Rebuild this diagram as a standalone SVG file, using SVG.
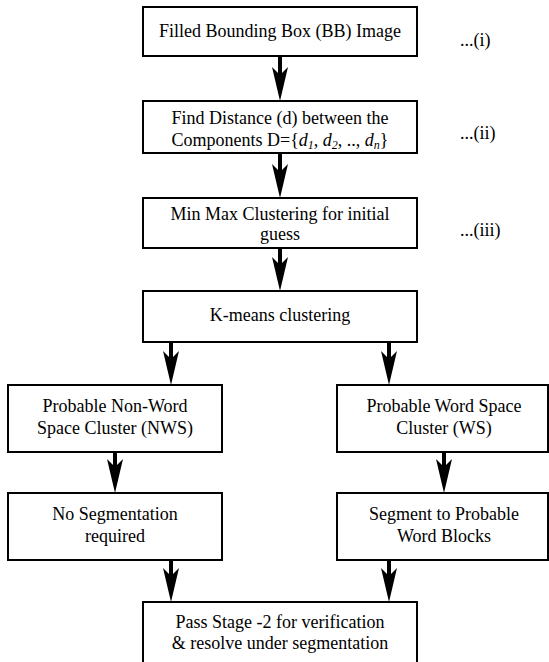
<svg xmlns="http://www.w3.org/2000/svg" width="549" height="662" viewBox="0 0 549 662">
<style>
.box{fill:#fff;stroke:#000;stroke-width:2}
.t{font-family:"Liberation Serif","Times New Roman",serif;font-size:18px;fill:#000;text-anchor:middle}
.lbl{font-family:"Liberation Serif","Times New Roman",serif;font-size:18px;fill:#000}
.sh{stroke:#000;stroke-width:4;fill:none;marker-end:url(#ah)}
.i{font-style:italic}
.s{font-size:12px}
</style>
<defs>
<marker id="ah" markerUnits="userSpaceOnUse" markerWidth="34" markerHeight="16" viewBox="0 -8 34 16" refX="14" refY="0" orient="auto">
<path d="M0,-8 L8,0 L0,8 L34,0 Z" fill="#000"/>
</marker>
</defs>
<rect width="549" height="662" fill="#fff"/>
<g id="connectors">
<line class="sh" x1="280" y1="56" x2="280" y2="81"/>
<line class="sh" x1="280" y1="153" x2="280" y2="178"/>
<line class="sh" x1="280" y1="248" x2="280" y2="271"/>
<line class="sh" x1="171" y1="342" x2="171" y2="365"/>
<line class="sh" x1="389" y1="342" x2="389" y2="365"/>
<line class="sh" x1="115" y1="452" x2="115" y2="473"/>
<line class="sh" x1="444" y1="452" x2="444" y2="473"/>
<line class="sh" x1="171" y1="560" x2="171" y2="582"/>
<line class="sh" x1="389" y1="560" x2="389" y2="582"/>
</g>
<g id="n1">
<rect class="box" x="143" y="7" width="274" height="49"/>
<text class="t" x="280" y="37">Filled Bounding Box (BB) Image</text>
</g>
<g id="n2">
<rect class="box" x="143" y="101" width="274" height="52"/>
<text class="t" x="280" y="124">Find Distance (d) between the</text>
<text class="t" x="280" y="146">Components D={<tspan class="i">d<tspan class="s" dy="3">1</tspan></tspan><tspan dy="-3">, </tspan><tspan class="i">d<tspan class="s" dy="3">2</tspan></tspan><tspan dy="-3">, .., </tspan><tspan class="i">d<tspan class="s" dy="3">n</tspan></tspan><tspan dy="-3">}</tspan></text>
</g>
<g id="n3">
<rect class="box" x="143" y="198" width="274" height="50"/>
<text class="t" x="280" y="220">Min Max Clustering for initial</text>
<text class="t" x="280" y="240">guess</text>
</g>
<g id="n4">
<rect class="box" x="143" y="291" width="274" height="51"/>
<text class="t" x="280" y="321">K-means clustering</text>
</g>
<g id="n5">
<rect class="box" x="8" y="385" width="214" height="67"/>
<text class="t" x="115" y="412">Probable Non-Word</text>
<text class="t" x="115" y="434">Space Cluster (NWS)</text>
</g>
<g id="n6">
<rect class="box" x="337" y="385" width="211" height="67"/>
<text class="t" x="444" y="412">Probable Word Space</text>
<text class="t" x="444" y="434">Cluster (WS)</text>
</g>
<g id="n7">
<rect class="box" x="8" y="493" width="214" height="67"/>
<text class="t" x="115" y="520">No Segmentation</text>
<text class="t" x="115" y="542">required</text>
</g>
<g id="n8">
<rect class="box" x="337" y="493" width="211" height="67"/>
<text class="t" x="444" y="520">Segment to Probable</text>
<text class="t" x="444" y="542">Word Blocks</text>
</g>
<g id="n9">
<rect class="box" x="143" y="602" width="274" height="64"/>
<text class="t" x="280" y="628">Pass Stage -2 for verification</text>
<text class="t" x="280" y="649">&amp; resolve under segmentation</text>
</g>
<g id="labels">
<text class="lbl" x="460" y="46">...(i)</text>
<text class="lbl" x="460" y="139">...(ii)</text>
<text class="lbl" x="460" y="236">...(iii)</text>
</g>
</svg>
